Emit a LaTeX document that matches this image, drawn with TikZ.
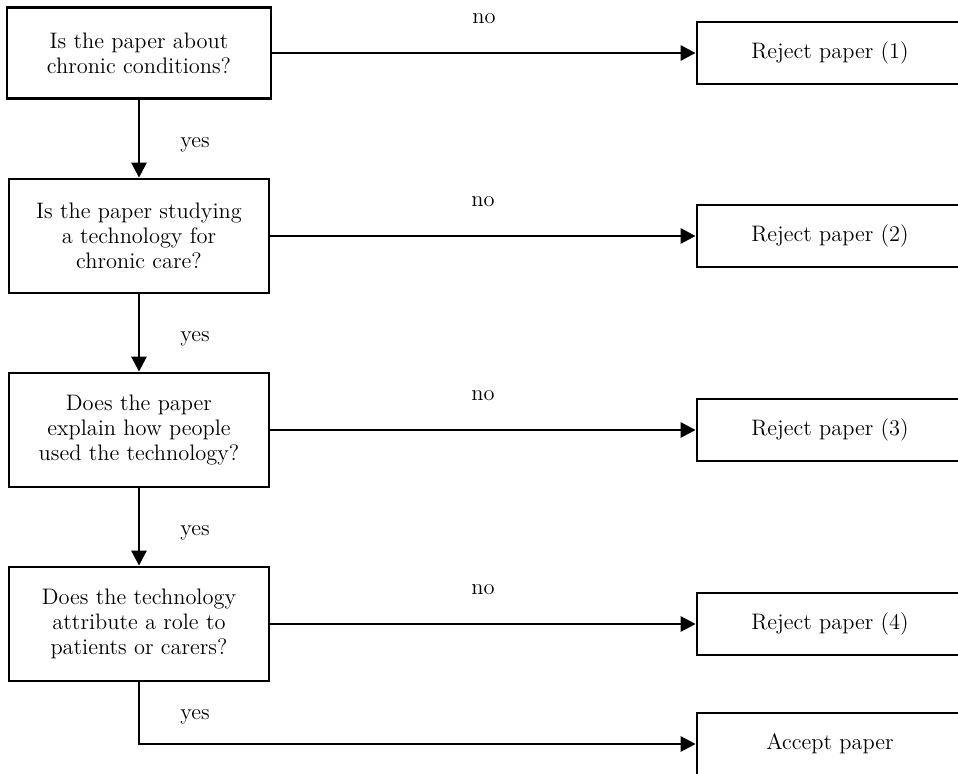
\documentclass[tikz,border=0pt]{standalone}
\usetikzlibrary{arrows.meta}
\tikzset{
	question/.style={draw, line width=1.4pt, align=center, minimum width=130pt, minimum height=57pt, inner sep=0pt, font=\fontsize{11.2}{12.4}\selectfont},
	outcome/.style={draw, line width=1.4pt, minimum width=133pt, minimum height=31pt, inner sep=0pt, font=\fontsize{11.2}{12.4}\selectfont},
	answer/.style={font=\fontsize{11.2}{12.4}\selectfont},
	flow/.style={line width=1.4pt, -{Triangle[length=7.5pt, width=7.5pt]}}
}

\begin{document}
\begin{tikzpicture}[x=0.5pt, y=-0.5pt]
	\clip (0,0) rectangle (958,774);
	% questions
	\node[question, minimum width=132pt, minimum height=45.5pt] (Q1) at (139,53) {Is the paper about\\chronic conditions?};
	\node[question] (Q2) at (139,236) {Is the paper studying\\a technology for\\chronic care?};
	\node[question] (Q3) at (139,430) {Does the paper\\explain how people\\used the technology?};
	\node[question] (Q4) at (139,624) {Does the technology\\attribute a role to\\patients or carers?};
	% outcomes
	\node[outcome] (R1) at (830,53) {Reject paper (1)};
	\node[outcome] (R2) at (830,236) {Reject paper (2)};
	\node[outcome] (R3) at (830,430) {Reject paper (3)};
	\node[outcome] (R4) at (830,624) {Reject paper (4)};
	\node[outcome] (A) at (830,744) {Accept paper};
	% no
	\draw[flow] (Q1) -- (R1) node[answer, midway, yshift=17pt]{no};
	\draw[flow] (Q2) -- (R2) node[answer, midway, yshift=17pt]{no};
	\draw[flow] (Q3) -- (R3) node[answer, midway, yshift=17pt]{no};
	\draw[flow] (Q4) -- (R4) node[answer, midway, yshift=17pt]{no};
	% yes
	\draw[flow] (Q1) -- (Q2) node[answer, midway, xshift=28pt, yshift=-3pt]{yes};
	\draw[flow] (Q2) -- (Q3) node[answer, midway, xshift=28pt, yshift=-3pt]{yes};
	\draw[flow] (Q3) -- (Q4) node[answer, midway, xshift=28pt, yshift=-3pt]{yes};
	\draw[flow] (Q4) |- (A) node[answer, pos=0.25, xshift=28pt, yshift=-2pt]{yes};
\end{tikzpicture}
\end{document}
